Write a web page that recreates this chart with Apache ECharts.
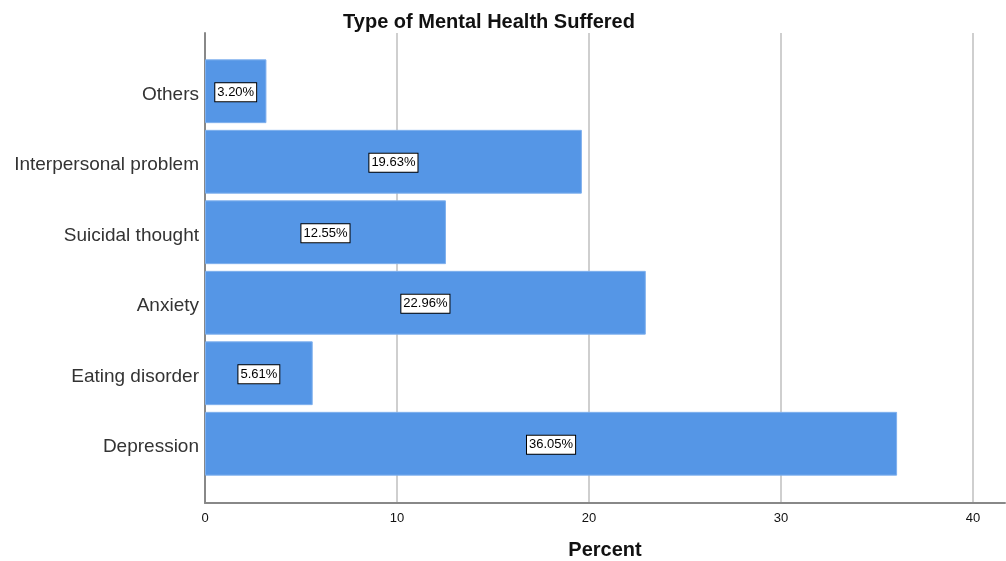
<!DOCTYPE html>
<html><head><meta charset="utf-8">
<script src="https://cdn.jsdelivr.net/npm/echarts@6/dist/echarts.min.js"></script>
<style>html,body{margin:0;padding:0;background:#fff}#c{width:1006px;height:561px}</style>
</head><body><div id="c"></div>
<script>
const categories = ['Depression','Eating disorder','Anxiety','Suicidal thought','Interpersonal problem','Others'];
const percents = [36.05, 5.61, 22.96, 12.55, 19.63, 3.20];
const xTicks = [0, 10, 20, 30, 40];
const titleText = 'Type of Mental Health Suffered';
const xTitle = 'Percent';

const FONT = '"Liberation Sans", Arial, sans-serif';
const XMAX = 41.67;
const chart = echarts.init(document.getElementById('c'));
chart.setOption({
  animation: false,
  title: { text: titleText, left: 484, top: 7, textAlign: 'center',
    textStyle: { fontFamily: FONT, fontSize: 20, fontWeight: 'bold', color: '#111' } },
  grid: [
    { left: 205, right: 1, top: 33, bottom: 58, outerBoundsMode: 'none', containLabel: false },
    { left: 205, right: 1, top: 56, bottom: 82, outerBoundsMode: 'none', containLabel: false }
  ],
  xAxis: [
    { gridIndex: 0, type: 'value', min: 0, max: XMAX, interval: 10,
      name: xTitle, nameLocation: 'middle', nameGap: 37,
      nameTextStyle: { fontFamily: FONT, fontSize: 20, fontWeight: 'bold', color: '#111' },
      axisLine: { show: true, lineStyle: { color: '#888', width: 2 } },
      axisTick: { show: false },
      axisLabel: { fontFamily: FONT, fontSize: 13, color: '#111', margin: 9,
        customValues: xTicks },
      splitLine: { show: true, showMaxLine: false, lineStyle: { color: '#cfcfcf', width: 2 } } },
    { gridIndex: 1, type: 'value', min: 0, max: XMAX, show: false,
      splitLine: { show: false } }
  ],
  yAxis: [
    { gridIndex: 0, type: 'category', data: [], axisLine: { show: true, lineStyle: { color: '#888', width: 2 } },
      axisTick: { show: false }, axisLabel: { show: false } },
    { gridIndex: 1, type: 'category', data: categories,
      axisLine: { show: false }, axisTick: { show: false },
      axisLabel: { margin: 6,
        formatter: v => '{s| }\n{a|' + v + '}',
        rich: {
          s: { fontSize: 1, lineHeight: 7 },
          a: { fontFamily: FONT, fontSize: 19, lineHeight: 22, color: '#333' }
        } } }
  ],
  series: [
    { type: 'bar', xAxisIndex: 1, yAxisIndex: 1, data: percents,
      barCategoryGap: '9.5%',
      itemStyle: { color: '#5596e6', borderColor: '#7fb0ee', borderWidth: 1 },
      label: { show: false } },
    { type: 'scatter', xAxisIndex: 1, yAxisIndex: 1, symbolSize: 0,
      itemStyle: { opacity: 1 },
      data: percents.map((v, i) => [v / 2, i, v]),
      label: { show: true, position: 'inside', offset: [0, 1],
        formatter: p => p.data[2].toFixed(2) + '%',
        fontFamily: FONT, fontSize: 13, color: '#000',
        backgroundColor: '#fff', borderColor: '#000', borderWidth: 1,
        padding: [3, 2, 2, 2] },
      silent: true }
  ]
});
</script></body></html>
